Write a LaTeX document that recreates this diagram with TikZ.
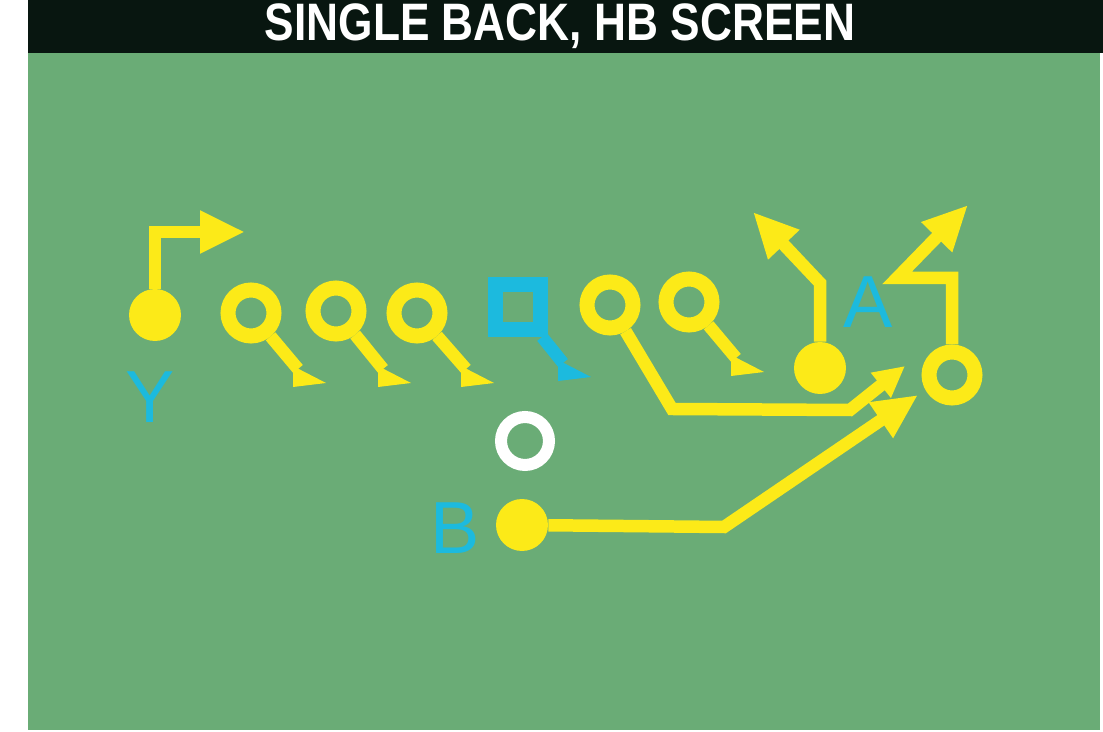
\documentclass[tikz,border=0pt]{standalone}
\usepackage{fontspec}
\setmainfont{Liberation Sans}
\usetikzlibrary{arrows.meta,positioning}
\definecolor{field}{RGB}{106,172,118}
\definecolor{plyel}{RGB}{252,234,24}
\definecolor{plcyan}{RGB}{28,186,222}
\definecolor{hdr}{RGB}{8,22,16}
\tikzset{
  >={Triangle[length=0.9cm,width=0.8cm]},
  fp/.style={circle,fill=plyel,inner sep=0pt,minimum size=1.04cm},
  op/.style={circle,draw=plyel,line width=0.3cm,inner sep=0pt,minimum size=0.92cm},
  ctr/.style={rectangle,draw=plcyan,line width=0.3cm,inner sep=0pt,minimum size=0.9cm},
  qbk/.style={circle,draw=white,line width=0.24cm,inner sep=0pt,minimum size=0.96cm},
  rt/.style={draw=plyel,line width=0.25cm,line join=miter},
  lbl/.style={text=plcyan,font=\fontsize{42}{42}\selectfont,inner sep=0pt},
  ttl/.style={text=white,font=\bfseries\fontsize{30}{30}\selectfont,inner sep=0pt,xscale=0.84},
  blk/.pic={\fill (-5,-3) -- (28,14) -- (-5,18) -- cycle;}
}

\begin{document}
\begin{tikzpicture}[x=0.02cm,y=-0.02cm]
  \useasboundingbox (0,0) rectangle (1103,732);
  \fill[white] (0,0) rectangle (1103,732);
  \fill[field] (28,53) rectangle (1100,730);
  \fill[hdr] (28,0) rectangle (1103,53);
  \node[ttl,anchor=base] (title) at (560,41) {SINGLE BACK, HB SCREEN};

  % line
  \node[fp] (y) at (155,315) {};
  \node[op] (lt) at (251,313) {};
  \node[op] (lg) at (336,311) {};
  \node[op] (lx) at (417,313) {};
  \node[ctr] (c) at (518,307) {};
  \node[op] (rg) at (610,305) {};
  \node[op] (rtk) at (689,302) {};
  \node[fp] (te) at (820,368) {};
  \node[op] (wr) at (952,375) {};
  \node[qbk] (qb) at (525,441) {};
  \node[fp] (hb) at (522,525) {};

  \node[lbl] (ly) at (150,397) {Y};
  \node[lbl] (la) at (868,302) {A};
  \node[lbl] (lb) at (455,528) {B};

  % route ends
  \coordinate (ytip) at (245,232);
  \coordinate (tetip) at (753,212);
  \coordinate (wrtip) at (968,205);
  \coordinate (gtip) at (905,366);
  \coordinate (btip) at (918,395);
  \coordinate (b1) at (298,369);
  \coordinate (b2) at (383,369);
  \coordinate (b3) at (466,369);
  \coordinate (bc) at (563,363);
  \coordinate (b5) at (736,358);

  % blocks
  \draw[rt] (lt) -- (b1);  \pic[plyel] at (b1) {blk};
  \draw[rt] (lg) -- (b2);  \pic[plyel] at (b2) {blk};
  \draw[rt] (lx) -- (b3);  \pic[plyel] at (b3) {blk};
  \draw[rt,draw=plcyan] (c) -- (bc);  \pic[plcyan] at (bc) {blk};
  \draw[rt] (rtk) -- (b5);  \pic[plyel] at (b5) {blk};

  % routes
  \draw[rt,->] (y) |- (ytip);
  \draw[rt,->] (te) -- (820,283) -- (tetip);
  \draw[rt,->] (wr) -- (952,278) -- (897,278) -- (wrtip);
  \draw[rt,-{Triangle[length=0.62cm,width=0.6cm]}] (rg) -- (672,409) -- (850,410) -- (gtip);
  \draw[rt,->] (hb) -- (724,527) -- (btip);
\end{tikzpicture}
\end{document}
